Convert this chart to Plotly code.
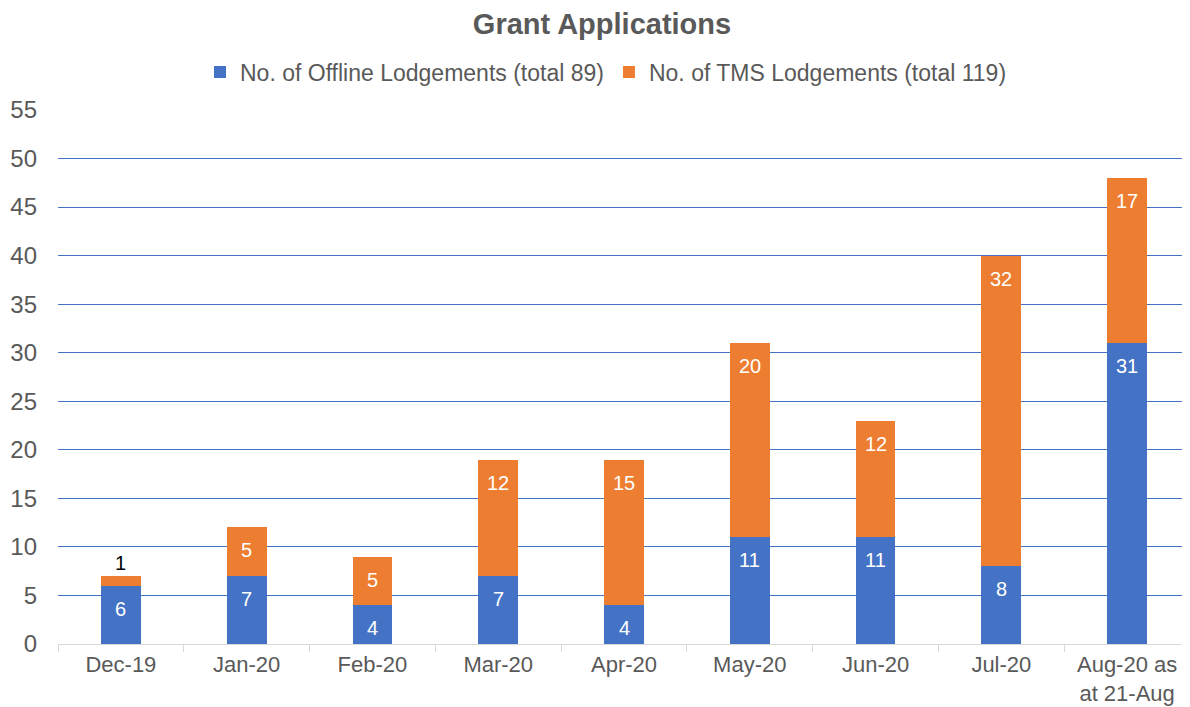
import plotly.graph_objects as go

categories = ["Dec-19", "Jan-20", "Feb-20", "Mar-20", "Apr-20", "May-20", "Jun-20", "Jul-20", "Aug-20 as<br>at 21-Aug"]
offline = [6, 7, 4, 7, 4, 11, 11, 8, 31]
tms = [1, 5, 5, 12, 15, 20, 12, 32, 17]
offline_name = "No. of Offline Lodgements (total 89)"
tms_name = "No. of TMS Lodgements (total 119)"
y_ticks = [0, 5, 10, 15, 20, 25, 30, 35, 40, 45, 50, 55]

BLUE = "#4472C4"
ORANGE = "#ED7D31"
GRAY = "#595959"
FONT = "Liberation Sans, Arial, sans-serif"
LABEL_SIZE = 20

W, H = 1182, 699  # page body has an 8px margin
fig = go.Figure()
fig.add_trace(go.Bar(x=categories, y=offline, name=offline_name,
                     marker=dict(color=BLUE, line=dict(width=0))))
fig.add_trace(go.Bar(x=categories, y=tms, name=tms_name,
                     marker=dict(color=ORANGE, line=dict(width=0))))

annotations = []
for cat, a, b in zip(categories, offline, tms):
    annotations.append(dict(x=cat, y=a, text=str(a), showarrow=False,
                            yanchor="top", yshift=-10,
                            font=dict(size=LABEL_SIZE, color="white", family=FONT)))
    if b < 2:
        annotations.append(dict(x=cat, y=a + b, text=str(b), showarrow=False,
                                yanchor="bottom", yshift=0,
                                font=dict(size=LABEL_SIZE, color="black", family=FONT)))
    else:
        annotations.append(dict(x=cat, y=a + b, text=str(b), showarrow=False,
                                yanchor="top", yshift=-10,
                                font=dict(size=LABEL_SIZE, color="white", family=FONT)))

fig.update_layout(
    barmode="stack",
    bargap=0.683,
    width=W, height=H,
    margin=dict(l=50, r=0, t=102, b=63),
    paper_bgcolor="white", plot_bgcolor="white",
    font=dict(family=FONT, color=GRAY),
    title=dict(text="<b>Grant Applications</b>", x=594 / W, xanchor="center",
               xref="container", y=1 - 16 / H, yanchor="middle",
               font=dict(size=29, color=GRAY, family=FONT)),
    legend=dict(orientation="h", x=(598 - 50) / 1132, xanchor="center",
                y=1 + 38 / 534, yanchor="middle",
                font=dict(size=23, color=GRAY, family=FONT), itemwidth=30,
                traceorder="normal"),
    showlegend=True,
    annotations=annotations,
)
fig.update_xaxes(
    type="category", showgrid=False, showline=True, linecolor="#D9D9D9", linewidth=1,
    ticks="outside", tickson="boundaries", ticklen=7, tickcolor="#D9D9D9",
    tickfont=dict(size=22, color=GRAY, family=FONT), automargin=False,
    ticklabelstandoff=1,
)
fig.update_yaxes(
    range=[0, 55], tickvals=y_ticks, showgrid=True, gridcolor=BLUE, gridwidth=1,
    zeroline=False, showline=False, ticks="",
    tickfont=dict(size=24, color=GRAY, family=FONT), ticklabelstandoff=20,
    automargin=False,
)

fig.write_html("out.html")
